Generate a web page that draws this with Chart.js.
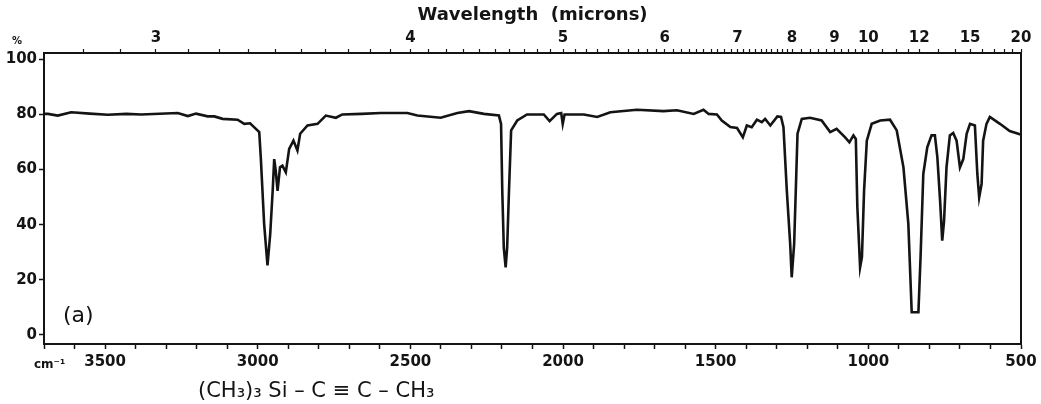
<!DOCTYPE html>
<html>
<head>
<meta charset="utf-8">
<script src="https://cdn.jsdelivr.net/npm/chart.js@4.4.1/dist/chart.umd.min.js"></script>
<style>
  html, body { margin: 0; padding: 0; background: #fff; }
  #wrap { width: 1041px; height: 404px; }
</style>
</head>
<body>
<div id="wrap"><canvas id="ir"></canvas></div>
<script>
// wavenumber (cm-1), left to right
const wavenumbers = [
  3700, 3687, 3655, 3611, 3550, 3491, 3430, 3382, 3262, 3229, 3202, 3164, 3142, 3115,
  3066, 3044, 3025, 3012, 2995, 2990, 2979, 2968, 2959, 2951, 2946, 2941, 2935, 2927,
  2919, 2908, 2897, 2883, 2870, 2861, 2837, 2804, 2777, 2744, 2723, 2660, 2597, 2575,
  2510, 2477, 2401, 2346, 2308, 2259, 2210, 2203, 2199, 2194, 2188, 2183, 2177, 2170,
  2150, 2118, 2063, 2044, 2020, 2006, 2001, 1995, 1932, 1888, 1845, 1758, 1671, 1627,
  1572, 1540, 1523, 1496, 1480, 1452, 1430, 1411, 1398, 1382, 1365, 1349, 1338, 1321,
  1298, 1286, 1278, 1267, 1256, 1251, 1243, 1236, 1232, 1218, 1191, 1153, 1125, 1104,
  1076, 1062, 1049, 1041, 1036, 1027, 1021, 1014, 1005, 989, 961, 929, 907, 885,
  869, 858, 847, 836, 829, 820, 807, 793, 782, 774, 765, 758, 752, 744,
  733, 722, 711, 700, 689, 678, 667, 651, 643, 637, 629, 624, 613, 602,
  569, 537, 504, 500
];

// % transmittance at those wavenumbers
const transmittance = [
  80.2, 80.2, 79.6, 80.8, 80.3, 79.9, 80.2, 80.0, 80.5, 79.4, 80.3, 79.3, 79.3, 78.4,
  78.1, 76.6, 76.8, 75.4, 73.6, 64.5, 40.3, 25.2, 36.7, 52.3, 63.8, 59.6, 52.3, 60.8,
  61.4, 59.0, 67.5, 70.5, 66.9, 73.0, 76.0, 76.6, 79.6, 78.8, 80.0, 80.2, 80.5, 80.5,
  80.5, 79.6, 78.8, 80.5, 81.2, 80.2, 79.6, 76.6, 52.3, 31.7, 24.5, 31.7, 52.3, 74.2,
  77.8, 80.0, 80.0, 77.6, 80.2, 80.5, 76.6, 80.0, 80.0, 79.1, 80.8, 81.7, 81.2, 81.5,
  80.2, 81.7, 80.2, 80.0, 77.8, 75.4, 75.1, 71.7, 76.0, 75.4, 78.1, 77.2, 78.4, 76.0,
  79.3, 79.1, 75.4, 52.3, 33.0, 20.9, 33.0, 58.4, 73.0, 78.4, 78.8, 77.8, 73.6, 74.8,
  71.7, 69.9, 72.4, 71.1, 46.3, 24.5, 28.2, 52.3, 70.5, 76.6, 77.8, 78.1, 74.2, 60.8,
  40.3, 8.2, 8.2, 8.2, 28.2, 58.4, 68.1, 72.4, 72.4, 64.5, 48.7, 34.2, 41.4, 60.8,
  72.4, 73.3, 70.5, 60.8, 63.8, 73.0, 76.6, 76.0, 58.4, 49.9, 54.8, 70.5, 76.6, 79.1,
  76.6, 74.0, 72.8, 72.7
];

const yTicks = [0, 20, 40, 60, 80, 100];
const wnLabels = [3500, 3000, 2500, 2000, 1500, 1000, 500];
const micronLabels = [3, 4, 5, 6, 7, 8, 9, 10, 12, 15, 20];
// minor wavelength ticks (microns) along the top
const micronMinor = [
  2.8, 2.9, 3.1, 3.2, 3.3, 3.4, 3.5, 3.6, 3.7, 3.8, 3.9,
  4.1, 4.2, 4.3, 4.4, 4.5, 4.6, 4.7, 4.8, 4.9,
  5.1, 5.2, 5.3, 5.4, 5.5, 5.6, 5.7, 5.8, 5.9,
  6.1, 6.2, 6.3, 6.4, 6.5, 6.6, 6.7, 6.8, 6.9,
  7.1, 7.2, 7.3, 7.4, 7.5, 7.6, 7.7, 7.8, 7.9,
  8.2, 8.4, 8.6, 8.8, 9.2, 9.4, 9.6, 9.8,
  10.5, 11, 11.5, 13, 14, 16, 17, 18, 19
];

const ink = '#141414';
Chart.defaults.font.family = "'DejaVu Sans', sans-serif";
Chart.defaults.color = ink;

const extraText = {
  id: 'extraText',
  afterDraw(chart) {
    const ctx = chart.ctx;
    ctx.save();
    ctx.fillStyle = ink;
    ctx.textBaseline = 'alphabetic';
    ctx.textAlign = 'left';
    ctx.font = 'bold 10px DejaVu Sans';
    ctx.fillText('%', 12, 44);
    ctx.font = 'bold 12px DejaVu Sans';
    ctx.fillText('cm⁻¹', 34, 368);
    ctx.font = '22px DejaVu Sans';
    ctx.fillText('(a)', 63, 322);
    ctx.font = '21px DejaVu Sans';
    ctx.fillText('(CH₃)₃ Si – C ≡ C – CH₃', 198, 397);
    ctx.restore();
  }
};

new Chart(document.getElementById('ir'), {
  type: 'line',
  data: {
    datasets: [{
      label: 'Transmittance',
      data: wavenumbers.map((w, i) => ({ x: w, y: transmittance[i] })),
      borderColor: ink,
      borderWidth: 2.6,
      pointRadius: 0,
      tension: 0,
      fill: false
    }]
  },
  options: {
    responsive: true,
    maintainAspectRatio: false,
    animation: false,
    layout: { padding: 0 },
    plugins: {
      legend: { display: false },
      tooltip: { enabled: false }
    },
    scales: {
      x: {
        type: 'linear',
        position: 'bottom',
        reverse: true,
        min: 500,
        max: 3700,
        afterBuildTicks: (s) => {
          const t = [];
          for (let v = 500; v <= 3700; v += 100) t.push({ value: v });
          s.ticks = t;
        },
        afterFit: (s) => { s.height = 60; },
        ticks: {
          autoSkip: false,
          maxRotation: 0,
          padding: 4,
          font: { size: 15, weight: 'bold' },
          callback: (v) => (wnLabels.includes(v) ? String(v) : '')
        },
        grid: { drawOnChartArea: false, tickLength: 5, tickColor: ink, tickWidth: 1.5 },
        border: { color: ink, width: 2 }
      },
      x2: {
        type: 'linear',
        position: 'top',
        reverse: true,
        min: 500,
        max: 3700,
        afterBuildTicks: (s) => {
          const all = micronLabels.concat(micronMinor).sort((a, b) => a - b);
          s.ticks = all.map((m) => ({ value: 10000 / m }));
        },
        afterFit: (s) => { s.height = 53; },
        title: {
          display: true,
          text: 'Wavelength  (microns)',
          font: { size: 18, weight: 'bold' },
          padding: { top: 5, bottom: 0 }
        },
        ticks: {
          autoSkip: false,
          maxRotation: 0,
          padding: 2,
          font: { size: 15, weight: 'bold' },
          callback: (v) => {
            const m = Math.round(10000 / v * 10) / 10;
            return micronLabels.includes(m) ? String(m) : '';
          }
        },
        grid: { drawOnChartArea: false, tickLength: 4, tickColor: ink, tickWidth: 1.2 },
        border: { color: ink, width: 2 }
      },
      y: {
        position: 'left',
        min: -3.3,
        max: 102.3,
        afterBuildTicks: (s) => { s.ticks = yTicks.map((v) => ({ value: v })); },
        afterFit: (s) => { s.width = 44; },
        ticks: { padding: 2, font: { size: 15, weight: 'bold' } },
        grid: { drawOnChartArea: false, tickLength: 5, tickColor: ink, tickWidth: 1.5 },
        border: { color: ink, width: 2 }
      },
      y2: {
        position: 'right',
        min: -3.3,
        max: 102.3,
        afterFit: (s) => { s.width = 20; },
        ticks: { display: false },
        grid: { drawOnChartArea: false, drawTicks: false },
        border: { color: ink, width: 2 }
      }
    }
  },
  plugins: [extraText]
});
</script>
</body>
</html>
